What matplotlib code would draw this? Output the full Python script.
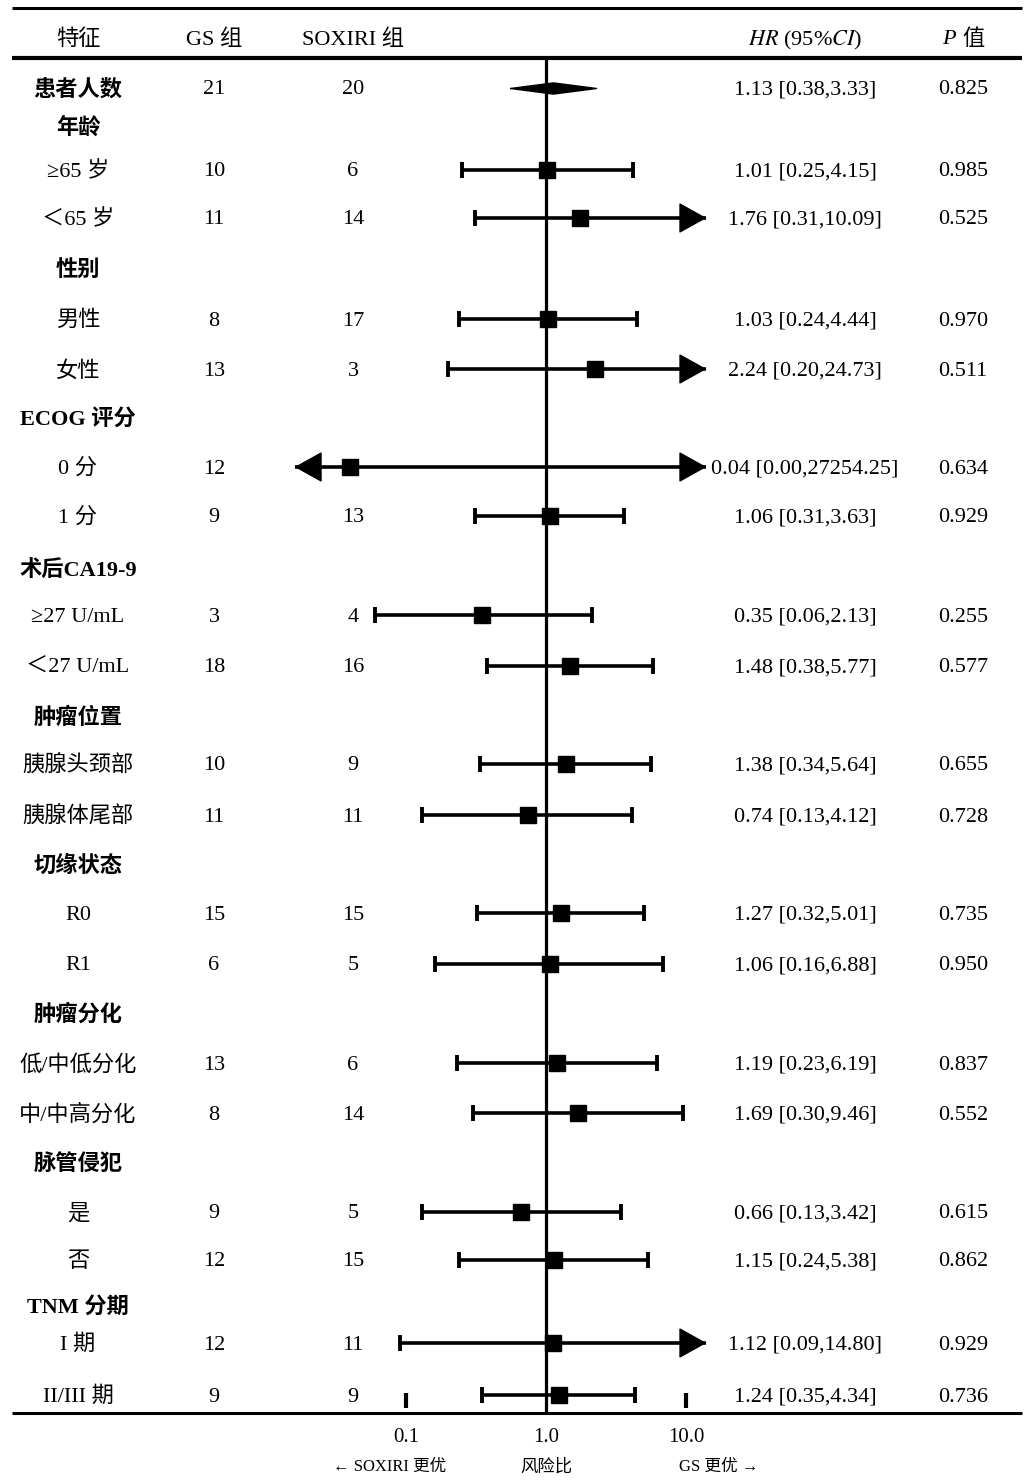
import matplotlib
matplotlib.use("Agg")
import matplotlib.pyplot as plt
import numpy as np

plt.rcParams['font.family'] = ['Liberation Serif', 'Noto Sans CJK SC', 'DejaVu Sans']
plt.rcParams['mathtext.fontset'] = 'stix'

# 数据
labels = ['患者人数', '年龄', '≥65 岁', '＜65 岁', '性别', '男性', '女性',
          'ECOG 评分', '0 分', '1 分', '术后CA19-9', '≥27 U/mL', '＜27 U/mL',
          '肿瘤位置', '胰腺头颈部', '胰腺体尾部', '切缘状态', 'R0', 'R1',
          '肿瘤分化', '低/中低分化', '中/中高分化', '脉管侵犯', '是', '否',
          'TNM 分期', 'I 期', 'II/III 期']
is_group = [1, 1, 0, 0, 1, 0, 0, 1, 0, 0, 1, 0, 0, 1, 0, 0, 1, 0, 0,
            1, 0, 0, 1, 0, 0, 1, 0, 0]
gs_n = [21, None, 10, 11, None, 8, 13, None, 12, 9, None, 3, 18, None, 10, 11,
        None, 15, 6, None, 13, 8, None, 9, 12, None, 12, 9]
soxiri_n = [20, None, 6, 14, None, 17, 3, None, 7, 13, None, 4, 16, None, 9, 11,
            None, 15, 5, None, 6, 14, None, 5, 15, None, 11, 9]
hr = [1.13, None, 1.01, 1.76, None, 1.03, 2.24, None, 0.04, 1.06, None, 0.35, 1.48,
      None, 1.38, 0.74, None, 1.27, 1.06, None, 1.19, 1.69, None, 0.66, 1.15,
      None, 1.12, 1.24]
ci_lo = [0.38, None, 0.25, 0.31, None, 0.24, 0.20, None, 0.00, 0.31, None, 0.06, 0.38,
         None, 0.34, 0.13, None, 0.32, 0.16, None, 0.23, 0.30, None, 0.13, 0.24,
         None, 0.09, 0.35]
ci_hi = [3.33, None, 4.15, 10.09, None, 4.44, 24.73, None, 27254.25, 3.63, None, 2.13, 5.77,
         None, 5.64, 4.12, None, 5.01, 6.88, None, 6.19, 9.46, None, 3.42, 5.38,
         None, 14.80, 4.34]
p_val = ['0.825', None, '0.985', '0.525', None, '0.970', '0.511', None, '0.634', '0.929',
         None, '0.255', '0.577', None, '0.655', '0.728', None, '0.735', '0.950', None,
         '0.837', '0.552', None, '0.615', '0.862', None, '0.929', '0.736']
summary_row = 0  # 第一行画菱形

# 版面（像素）
W, H = 1035, 1483
row_y = [88, 126, 170, 218, 268, 319, 369, 417, 467, 516, 568, 615, 666, 716, 764,
         815, 864, 913, 964, 1013, 1063, 1113, 1162, 1212, 1260, 1305, 1343, 1395]
col_label, col_gs, col_sox, col_hr, col_p = 78, 214, 353, 805, 963
one_x, px_dec = 546, 140
f_left, f_right = 270, 740
arrow_lo, arrow_hi = 0.016, 14.0
dy = 2  # 文字基线微调

fig = plt.figure(figsize=(W / 100, H / 100), dpi=100)
ax = fig.add_axes([0, 0, 1, 1])
ax.set_xlim(0, W)
ax.set_ylim(H, 0)
ax.axis('off')

fx = fig.add_axes([f_left / W, 0, (f_right - f_left) / W, 1])
fx.set_xscale('log')
fx.set_xlim(10 ** ((f_left - one_x) / px_dec), 10 ** ((f_right - one_x) / px_dec))
fx.set_ylim(H, 0)
fx.axis('off')
fx.patch.set_alpha(0)

# 表格线
ax.hlines(8, 12, 1022, color='black', lw=2.2)
ax.hlines(58, 12, 1022, color='black', lw=3.0)
ax.hlines(1413, 12, 1022, color='black', lw=2.2)

fs = 16
hy = 38 + dy
ax.text(col_label, hy, '特征', ha='center', va='center', fontsize=fs)
ax.text(col_gs, hy, 'GS 组', ha='center', va='center', fontsize=fs)
ax.text(col_sox, hy, 'SOXIRI 组', ha='center', va='center', fontsize=fs)
ax.text(col_hr, hy, r'$\mathit{HR}$ (95%$\mathit{CI}$)', ha='center', va='center', fontsize=fs)
ax.text(956, hy, 'P', ha='right', va='center', fontsize=fs, style='italic')
ax.text(962, hy, '值', ha='left', va='center', fontsize=fs)

# 参考线
fx.vlines(1, 58, 1413, color='black', lw=2.3)

for i, lab in enumerate(labels):
    y = row_y[i]
    ax.text(col_label, y + dy, lab, ha='center', va='center', fontsize=fs,
            fontweight='bold' if is_group[i] else 'normal')
    if gs_n[i] is None:
        continue
    ax.text(col_gs, y + dy, str(gs_n[i]), ha='center', va='center', fontsize=fs)
    ax.text(col_sox, y + dy, str(soxiri_n[i]), ha='center', va='center', fontsize=fs)
    ax.text(col_hr, y + dy, f'{hr[i]:.2f} [{ci_lo[i]:.2f},{ci_hi[i]:.2f}]',
            ha='center', va='center', fontsize=fs)
    ax.text(col_p, y + dy, p_val[i], ha='center', va='center', fontsize=fs)

    if i == summary_row:
        diamond = [(-1, 0), (0, 0.13), (1, 0), (0, -0.13), (-1, 0)]
        fx.plot(hr[i], y, marker=diamond, ms=62, color='black', clip_on=False)
        continue

    left_arrow = ci_lo[i] < 0.05
    right_arrow = ci_hi[i] > 10
    x0 = arrow_lo if left_arrow else ci_lo[i]
    x1 = arrow_hi if right_arrow else ci_hi[i]
    fx.hlines(y, x0, x1, color='black', lw=2.6, clip_on=False)
    ahead = dict(arrowstyle='-|>,head_length=0.9,head_width=0.5', mutation_scale=20,
                 lw=1, color='black', shrinkA=0, shrinkB=0)
    if left_arrow:
        fx.annotate('', xy=(x0, y), xytext=(hr[i], y), arrowprops=ahead)
    else:
        fx.vlines(x0, y - 8, y + 8, color='black', lw=2.8)
    if right_arrow:
        fx.annotate('', xy=(x1, y), xytext=(hr[i], y), arrowprops=ahead)
    else:
        fx.vlines(x1, y - 8, y + 8, color='black', lw=2.8)
    fx.plot(hr[i], y, marker='s', ms=12, color='black', clip_on=False)

# 坐标刻度
fx.vlines([0.1, 10], 1393, 1408, color='black', lw=3)
for v, t in zip([0.1, 1, 10], ['0.1', '1.0', '10.0']):
    fx.text(v, 1437, t, ha='center', va='center', fontsize=15)
fx.text(1, 1467, '风险比', ha='center', va='center', fontsize=12.5)
ax.text(390, 1467, '← SOXIRI 更优', ha='center', va='center', fontsize=12)
ax.text(719, 1467, 'GS 更优 →', ha='center', va='center', fontsize=12)

fig.savefig('out.png', dpi=100, facecolor='white')
